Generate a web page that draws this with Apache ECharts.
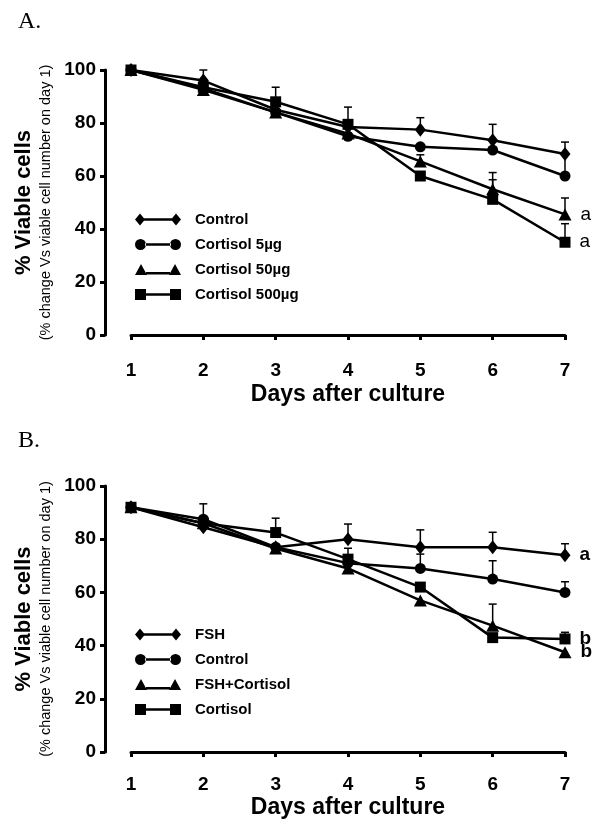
<!DOCTYPE html>
<html>
<head>
	<meta charset="utf-8">
	<title>Viable cells</title>
	<script src="https://cdn.jsdelivr.net/npm/echarts@6/dist/echarts.min.js"></script>
	<style>
		html, body { margin: 0; padding: 0; background: #fff; }
		#main { width: 601px; height: 820px; }
	</style>
</head>
<body>
	<div id="main"></div>
	<script type="text/javascript">
		// days on the x axis
		var days = [1, 2, 3, 4, 5, 6, 7];

		// panel A
		var namesA = ['Control', 'Cortisol 5µg', 'Cortisol 50µg', 'Cortisol 500µg'];
		var controlA = [100, 96, 85, 78.5, 77.5, 73.5, 68.3];
		var cort5A = [100, 93, 84, 75, 71, 69.8, 60];
		var cort50A = [100, 92.5, 84, 76, 65.5, 55, 45.5];
		var cort500A = [100, 93.5, 88, 79.5, 60, 51.2, 35];
		// upper error (SD), null = not drawn
		var controlAErr = [null, 4, null, null, 4.5, 6, 4.5];
		var cort5AErr = [null, null, null, null, null, null, 8.5];
		var cort50AErr = [null, null, null, null, 2.5, 6.3, 6.2];
		var cort500AErr = [null, null, 5.5, 6.5, null, 7.4, 7];
		var sigA = ['', '', 'a', 'a'];

		// panel B
		var namesB = ['FSH', 'Control', 'FSH+Cortisol', 'Cortisol'];
		var fshB = [92, 84.5, 77, 80, 77, 77, 74];
		var controlB = [92, 87.5, 77, 71, 69, 65, 60];
		var fshCortB = [92, 86, 76.5, 69, 57, 47.5, 37.5];
		var cortB = [92, 86, 82.5, 72.5, 62, 43, 42.5];
		var fshBErr = [null, null, null, 5.7, 6.5, 5.6, 4.3];
		var controlBErr = [null, 5.8, null, null, 5.4, 6.9, 4];
		var fshCortBErr = [null, null, null, null, null, 8.1, null];
		var cortBErr = [null, null, 5.4, 4.1, null, null, 2.5];
		var sigB = ['a', '', 'b', 'b'];

		var yTicks = { min: 0, max: 100, interval: 20 };
		var font = "'Liberation Sans', Arial, sans-serif";

		var symbols = ['diamond', 'circle', 'triangle', 'rect'];
		var symbolSizes = [[11, 14], 11, [13, 12], 11];
		var legendIcons = [
			'path://M0,6 L5,0 L10,6 L5,12 Z M9,4.8 L37,4.8 L37,7.2 L9,7.2 Z M36,6 L41,0 L46,6 L41,12 Z',
			'path://M0,6 A5.5,5.5 0 1,0 11,6 A5.5,5.5 0 1,0 0,6 Z M10,4.8 L36,4.8 L36,7.2 L10,7.2 Z M35,6 A5.5,5.5 0 1,0 46,6 A5.5,5.5 0 1,0 35,6 Z',
			'path://M0,12 L6,1 L12,12 Z M11,9 L35,9 L35,11.4 L11,11.4 Z M34,12 L40,1 L46,12 Z',
			'path://M0,0.5 L11,0.5 L11,11.5 L0,11.5 Z M10,4.8 L36,4.8 L36,7.2 L10,7.2 Z M35,0.5 L46,0.5 L46,11.5 L35,11.5 Z'
		];

		function pairs(vals) {
			return days.map(function (d, i) { return [d, vals[i]]; });
		}

		function errData(vals, errs) {
			var out = [];
			days.forEach(function (d, i) {
				if (errs[i] != null) out.push([d, vals[i], errs[i]]);
			});
			return out;
		}

		function renderErr(params, api) {
			var x = api.value(0), y = api.value(1), e = api.value(2);
			var p0 = api.coord([x, y]);
			var p1 = api.coord([x, y + e]);
			var st = { stroke: '#000', lineWidth: 1.5 };
			return {
				type: 'group',
				children: [
					{ type: 'line', shape: { x1: p0[0], y1: p0[1], x2: p1[0], y2: p1[1] }, style: st },
					{ type: 'line', shape: { x1: p1[0] - 4, y1: p1[1], x2: p1[0] + 4, y2: p1[1] }, style: st }
				]
			};
		}

		function makeSeries(panel, names, values, errs, sig, sigBold) {
			var list = [];
			names.forEach(function (name, k) {
				list.push({
					type: 'custom',
					xAxisIndex: panel,
					yAxisIndex: panel,
					renderItem: renderErr,
					data: errData(values[k], errs[k]),
					z: 1,
					silent: true
				});
				list.push({
					name: name,
					type: 'line',
					xAxisIndex: panel,
					yAxisIndex: panel,
					data: pairs(values[k]),
					symbol: symbols[k],
					symbolSize: symbolSizes[k],
					clip: false,
					color: '#000',
					lineStyle: { color: '#000', width: 2.5 },
					itemStyle: { color: '#000' },
					z: 3,
					label: {
						show: sig[k] !== '',
						position: 'right',
						distance: 9,
						color: '#000',
						fontFamily: font,
						fontSize: 19,
						fontWeight: sigBold ? 'bold' : 'normal',
						formatter: function (p) { return p.dataIndex === days.length - 1 ? sig[k] : ''; }
					}
				});
			});
			return list;
		}

		function xAxisOf(panel, margin, gap) {
			return {
				gridIndex: panel,
				type: 'value',
				min: 1,
				max: 7,
				interval: 1,
				offset: 4,
				axisLine: { show: true, lineStyle: { color: '#000', width: 3 } },
				axisTick: { show: true, length: 5, lineStyle: { color: '#000', width: 3 } },
				axisLabel: { color: '#000', fontFamily: font, fontSize: 19, fontWeight: 'bold', margin: margin },
				splitLine: { show: false },
				name: 'Days after culture',
				nameLocation: 'middle',
				nameGap: gap,
				nameTextStyle: { color: '#000', fontFamily: font, fontSize: 23, fontWeight: 'bold' }
			};
		}

		function yAxisOf(panel) {
			return {
				gridIndex: panel,
				type: 'value',
				min: yTicks.min,
				max: yTicks.max,
				interval: yTicks.interval,
				offset: 26,
				axisLine: { show: true, lineStyle: { color: '#000', width: 3 } },
				axisTick: { show: true, length: 5, lineStyle: { color: '#000', width: 3 } },
				axisLabel: { color: '#000', fontFamily: font, fontSize: 19, fontWeight: 'bold', margin: 9 },
				splitLine: { show: false },
				name: '{a|% Viable cells}\n{b|(% change Vs viable cell number on day 1)}',
				nameLocation: 'middle',
				nameRotate: 90,
				nameGap: 50,
				nameTextStyle: {
					color: '#000',
					fontFamily: font,
					rich: {
						a: { fontSize: 22, fontWeight: 'bold', lineHeight: 26, color: '#000', fontFamily: font },
						b: { fontSize: 14.5, lineHeight: 18, color: '#000', fontFamily: font }
					}
				}
			};
		}

		function legendOf(names, top) {
			return {
				orient: 'vertical',
				left: 130,
				top: top,
				itemWidth: 46,
				itemHeight: 12,
				itemGap: 10,
				selectedMode: false,
				data: names.map(function (n, k) { return { name: n, icon: legendIcons[k] }; }),
				itemStyle: { color: '#000', borderWidth: 0 },
				lineStyle: { opacity: 0 },
				textStyle: { color: '#000', fontFamily: font, fontSize: 15, fontWeight: 'bold', padding: [0, 0, 0, 9] }
			};
		}

		var myChart = echarts.init(document.getElementById('main'));

		var series = []
			.concat(makeSeries(0, namesA, [controlA, cort5A, cort50A, cort500A],
				[controlAErr, cort5AErr, cort50AErr, cort500AErr], sigA, false))
			.concat(makeSeries(1, namesB, [fshB, controlB, fshCortB, cortB],
				[fshBErr, controlBErr, fshCortBErr, cortBErr], sigB, true));

		myChart.setOption({
			backgroundColor: '#fff',
			animation: false,
			title: [
				{ text: 'A.', left: 13, top: 5, textStyle: { fontFamily: "'Liberation Serif', 'Times New Roman', serif", fontSize: 24, fontWeight: 'normal', color: '#000' } },
				{ text: 'B.', left: 13, top: 424, textStyle: { fontFamily: "'Liberation Serif', 'Times New Roman', serif", fontSize: 24, fontWeight: 'normal', color: '#000' } }
			],
			grid: [
				{ left: 131, top: 70, width: 434, height: 265 },
				{ left: 131, top: 486, width: 434, height: 267 }
			],
			legend: [legendOf(namesA, 207), legendOf(namesB, 622)],
			xAxis: [xAxisOf(0, 22, 44), xAxisOf(1, 19, 40)],
			yAxis: [yAxisOf(0), yAxisOf(1)],
			series: series
		});
	</script>
</body>
</html>
